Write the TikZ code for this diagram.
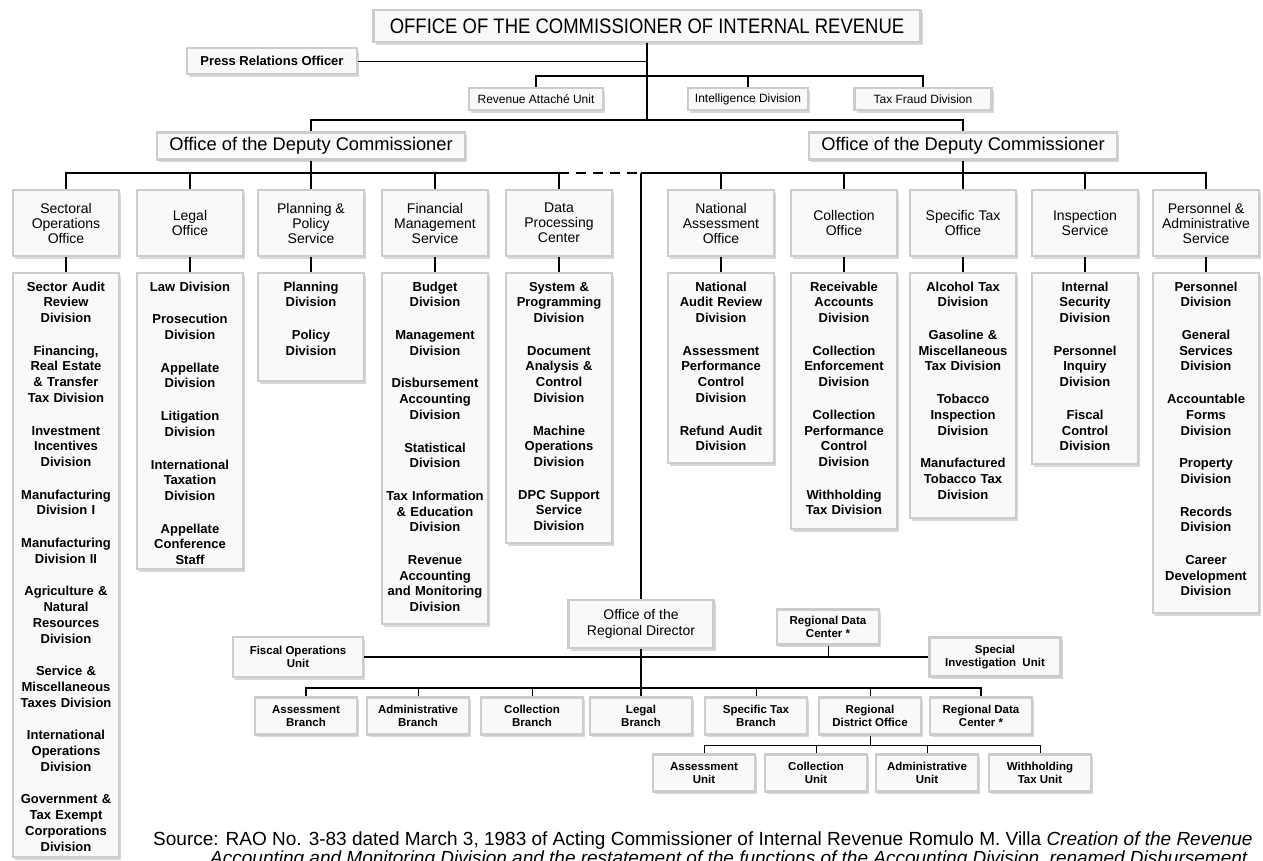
\documentclass[tikz,border=0pt]{standalone}
\usepackage{fontspec}
\setmainfont{Liberation Sans}
\newfontfamily\narrowfont[FakeStretch=0.88]{Liberation Sans}
\usetikzlibrary{shadows}

\begin{document}
\begin{tikzpicture}[x=1pt, y=-1pt,
    panel/.style={draw=gray!40, line width=2.2pt, fill=gray!5, inner sep=0pt, align=center, text=black,
        drop shadow={shadow xshift=2pt, shadow yshift=-2.5pt, fill=gray!60}},
    headbox/.style={panel, minimum width=106pt, minimum height=66pt, font=\fontsize{14}{15}\selectfont},
    listbox/.style={panel, anchor=north, inner xsep=2pt, inner ysep=7pt, text width=102pt, text height=11pt,
        font=\bfseries\fontsize{13}{15.7}\selectfont},
    unitbox/.style={panel, minimum width=102pt, minimum height=37pt, font=\bfseries\fontsize{11.5}{13.3}\selectfont},
    topbox/.style={panel, minimum height=22pt, font=\fontsize{12}{14}\selectfont},
    mainline/.style={line width=1.8pt},
    subline/.style={line width=1pt}]
    \fill[white] (0,0) rectangle (1263,860);
    \useasboundingbox (0,0) rectangle (1263,860);

    % 总署
    \node[panel, minimum width=547pt, minimum height=32pt, font=\narrowfont\fontsize{21}{24}\selectfont] (title) at (647,26) {OFFICE OF THE COMMISSIONER OF INTERNAL REVENUE};
    \node[panel, minimum width=170pt, minimum height=26pt, font=\bfseries\fontsize{13}{15}\selectfont] (press) at (272,61) {Press Relations Officer};
    \node[topbox, minimum width=134pt] (attache) at (536,99) {Revenue Attaché Unit};
    \node[topbox, minimum width=120pt] (intel) at (748,99) {Intelligence Division};
    \node[topbox, minimum width=137pt] (fraud) at (923,99) {Tax Fraud Division};
    \coordinate (ju) at (647,76);
    \coordinate (jt) at (647,120);
    \draw[mainline] (title.south) -- (jt);
    \draw[subline] (press.east) -- (press.east -| jt);
    \draw[mainline] (attache.north) |- (ju) -| (fraud.north);
    \draw[mainline] (intel.north) -- (intel.north |- ju);

    % 两位副署长
    \node[panel, minimum width=308pt, minimum height=27pt, font=\fontsize{18.3}{20}\selectfont] (depL) at (311,146) {Office of the Deputy Commissioner};
    \node[panel, minimum width=308pt, minimum height=27pt, font=\fontsize{18.3}{20}\selectfont] (depR) at (963,146) {Office of the Deputy Commissioner};
    \draw[mainline] (depL.north) |- (jt) -| (depR.north);

    % 各办公室
    \foreach \i/\x/\txt in {1/66/{Sectoral\\Operations\\Office}, 2/190/{Legal\\Office}, 3/311/{Planning \&\\Policy\\Service},
        4/435/{Financial\\Management\\Service}, 5/559/{Data\\Processing\\Center}, 6/721/{National\\Assessment\\Office},
        7/844/{Collection\\Office}, 8/963/{Specific Tax\\Office}, 9/1085/{Inspection\\Service},
        10/1206/{Personnel \&\\Administrative\\Service}}
        \node[headbox] (h\i) at (\x,223) {\txt};

    % 各处
    \node[listbox, text depth=559pt] (d1) at (66,272) {Sector Audit\\Review\\Division\\[17pt]
        Financing,\\Real Estate\\\& Transfer\\Tax Division\\[17pt]
        Investment\\Incentives\\Division\\[17pt]
        Manufacturing\\Division I\\[17pt]
        Manufacturing\\Division II\\[17pt]
        Agriculture \&\\Natural\\Resources\\Division\\[17pt]
        Service \&\\Miscellaneous\\Taxes Division\\[17pt]
        International\\Operations\\Division\\[17pt]
        Government \&\\Tax Exempt\\Corporations\\Division};
    \node[listbox, text depth=271pt] (d2) at (190,272) {Law Division\\[17pt]
        Prosecution\\Division\\[17pt]
        Appellate\\Division\\[17pt]
        Litigation\\Division\\[17pt]
        International\\Taxation\\Division\\[17pt]
        Appellate\\Conference\\Staff};
    \node[listbox, text depth=83pt] (d3) at (311,272) {Planning\\Division\\[17pt]
        Policy\\Division};
    \node[listbox, text depth=326pt] (d4) at (435,272) {Budget\\Division\\[17pt]
        Management\\Division\\[17pt]
        Disbursement\\Accounting\\Division\\[17pt]
        Statistical\\Division\\[17pt]
        Tax Information\\\& Education\\Division\\[17pt]
        Revenue\\Accounting\\and Monitoring\\Division};
    \node[listbox, text depth=245pt] (d5) at (559,272) {System \&\\Programming\\Division\\[17pt]
        Document\\Analysis \&\\Control\\Division\\[17pt]
        Machine\\Operations\\Division\\[17pt]
        DPC Support\\Service\\Division};
    \node[listbox, text depth=165pt] (d6) at (721,272) {National\\Audit Review\\Division\\[17pt]
        Assessment\\Performance\\Control\\Division\\[17pt]
        Refund Audit\\Division};
    \node[listbox, text depth=231pt] (d7) at (844,272) {Receivable\\Accounts\\Division\\[17pt]
        Collection\\Enforcement\\Division\\[17pt]
        Collection\\Performance\\Control\\Division\\[17pt]
        Withholding\\Tax Division};
    \node[listbox, text depth=220pt] (d8) at (963,272) {Alcohol Tax\\Division\\[17pt]
        Gasoline \&\\Miscellaneous\\Tax Division\\[17pt]
        Tobacco\\Inspection\\Division\\[17pt]
        Manufactured\\Tobacco Tax\\Division};
    \node[listbox, text depth=166pt] (d9) at (1085,272) {Internal\\Security\\Division\\[17pt]
        Personnel\\Inquiry\\Division\\[17pt]
        Fiscal\\Control\\Division};
    \node[listbox, text depth=315pt] (d10) at (1206,272) {Personnel\\Division\\[17pt]
        General\\Services\\Division\\[17pt]
        Accountable\\Forms\\Division\\[17pt]
        Property\\Division\\[17pt]
        Records\\Division\\[17pt]
        Career\\Development\\Division};

    % 连线
    \coordinate (jl) at (311,173);
    \coordinate (jc) at (641,173);
    \draw[mainline] (depL.south) -- (h3.north);
    \draw[mainline] (h1.north) |- (jl) -| (h5.north);
    \foreach \i in {2,4}
        \draw[mainline] (h\i.north) -- (h\i.north |- jl);
    \draw[mainline, dash pattern=on 10pt off 7pt] (h5.north |- jl) -- (jc);
    \draw[mainline] (depR.south) -- (h8.north);
    \draw[mainline] (jc) -| (h10.north);
    \foreach \i in {6,7,9}
        \draw[mainline] (h\i.north) -- (h\i.north |- jc);
    \foreach \i in {1,...,10}
        \draw[mainline] (h\i.south) -- (d\i.north);

    % 区域主任
    \node[panel, minimum width=145pt, minimum height=48pt, font=\fontsize{14}{16}\selectfont] (rd) at (641,624) {Office of the\\Regional Director};
    \node[unitbox, minimum height=35pt] (rdcTop) at (828,627) {Regional Data\\Center *};
    \node[unitbox, minimum width=131pt, minimum height=39pt] (siu) at (995,657) {Special\\Investigation~ Unit};
    \node[unitbox, minimum width=130pt, minimum height=40pt] (fou) at (298,657) {Fiscal Operations\\Unit};
    \draw[mainline] (jc) -- (rd.north);
    \draw[mainline] (fou.east) -- (siu.west);
    \draw[subline] (rdcTop.south) -- (rdcTop.south |- siu.west);

    % 分局
    \foreach \i/\x/\txt in {1/306/{Assessment\\Branch}, 2/418/{Administrative\\Branch}, 3/532/{Collection\\Branch},
        4/641/{Legal\\Branch}, 5/756/{Specific Tax\\Branch}, 6/870/{Regional\\District Office}, 7/981/{Regional Data\\Center *}}
        \node[unitbox] (b\i) at (\x,716) {\txt};
    \coordinate (jb) at (641,688);
    \draw[mainline] (rd.south) -- (b4.north);
    \draw[mainline] (b1.north) |- (jb) -| (b7.north);
    \foreach \i in {2,3,5,6}
        \draw[subline] (b\i.north) -- (b\i.north |- jb);

    % 单位
    \foreach \i/\x/\txt in {1/704/{Assessment\\Unit}, 2/816/{Collection\\Unit}, 3/927/{Administrative\\Unit}, 4/1040/{Withholding\\Tax Unit}}
        \node[unitbox] (u\i) at (\x,773) {\txt};
    \coordinate (jd) at (870,745);
    \draw[subline] (b6.south) -- (jd);
    \draw[subline] (u1.north) |- (jd) -| (u4.north);
    \foreach \i in {2,3}
        \draw[subline] (u\i.north) -- (u\i.north |- jd);

    % 出处
    \node[anchor=base west, inner sep=0pt, font=\fontsize{19}{20}\selectfont] (src1) at (153,845) {Source: RAO No. 3-83 dated March 3, 1983 of Acting Commissioner of Internal Revenue Romulo M. Villa \textit{Creation of the Revenue}};
    \node[anchor=base west, inner sep=0pt, font=\fontsize{19}{20}\selectfont\itshape] (src2) at (210,864) {Accounting and Monitoring Division and the restatement of the functions of the Accounting Division, renamed Disbursement};
\end{tikzpicture}
\end{document}
